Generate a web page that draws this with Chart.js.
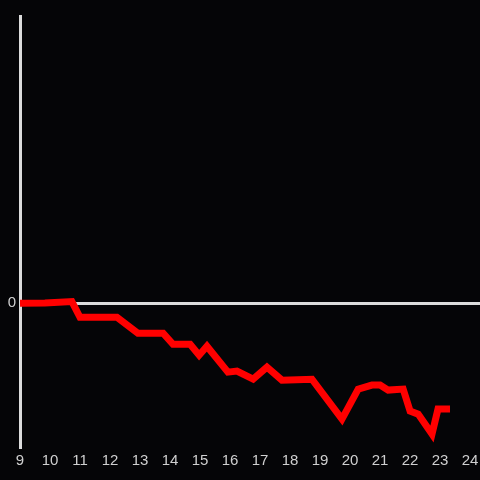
<!DOCTYPE html>
<html>
<head>
<meta charset="utf-8">
<script src="https://cdn.jsdelivr.net/npm/chart.js@4"></script>
<style>
  html, body { margin: 0; padding: 0; background: #050507; }
  #wrap { width: 480px; height: 480px; }
</style>
</head>
<body>
<div id="wrap"><canvas id="lineChart"></canvas></div>
<script>
// 시간(hour) / 값
const hours = [9.0, 9.83, 10.73, 11.0, 12.23, 12.93, 13.77, 14.1, 14.67, 14.97, 15.23, 15.93, 16.23,
  16.77, 17.23, 17.73, 18.73, 19.73, 20.27, 20.73, 21.0, 21.27, 21.77, 22.0, 22.27, 22.73, 22.93, 23.33];
const values = [0, 0.003, 0.012, -0.097, -0.097, -0.208, -0.208, -0.285, -0.285, -0.361, -0.299, -0.479, -0.472,
  -0.528, -0.444, -0.535, -0.528, -0.806, -0.597, -0.569, -0.569, -0.604, -0.597, -0.75, -0.771, -0.91, -0.736, -0.736];
const xTicks = [9, 10, 11, 12, 13, 14, 15, 16, 17, 18, 19, 20, 21, 22, 23, 24];

const points = hours.map((h, i) => ({ x: h, y: values[i] }));

const ctx = document.getElementById('lineChart').getContext('2d');
new Chart(ctx, {
  type: 'line',
  data: {
    datasets: [
      {
        data: points,
        borderColor: '#ff0000',
        backgroundColor: '#ff0000',
        borderWidth: 7,
        tension: 0,
        pointRadius: 0,
        fill: false,
      },
    ],
  },
  options: {
    responsive: true,
    maintainAspectRatio: false,
    animation: false,
    layout: { padding: { top: 16, right: 0, bottom: 5, left: 0 } },
    plugins: {
      legend: { display: false },
      tooltip: { enabled: false },
    },
    scales: {
      x: {
        type: 'linear',
        min: 9,
        max: 24.33,
        afterBuildTicks: (scale) => {
          scale.ticks = xTicks.map((v) => ({ value: v }));
        },
        afterFit: (scale) => {
          scale.paddingLeft = 0;
          scale.paddingRight = 0;
        },
        grid: { display: false, drawTicks: false },
        border: { display: false },
        ticks: {
          color: '#d0d0d0',
          font: { family: 'Liberation Sans', size: 15 },
          padding: 5,
          maxRotation: 0,
          autoSkip: false,
        },
      },
      y: {
        min: -1,
        max: 2,
        afterFit: (scale) => { scale.width = 20; },
        grid: {
          drawTicks: false,
          lineWidth: 3,
          color: (c) => (c.tick && c.tick.value === 0 ? '#dcdcdc' : 'rgba(0,0,0,0)'),
        },
        border: { color: '#dcdcdc', width: 3 },
        ticks: {
          stepSize: 1,
          color: '#d0d0d0',
          font: { family: 'Liberation Sans', size: 15 },
          padding: 4,
          callback: (v) => (v === 0 ? '0' : ''),
        },
      },
    },
  },
});
</script>
</body>
</html>
